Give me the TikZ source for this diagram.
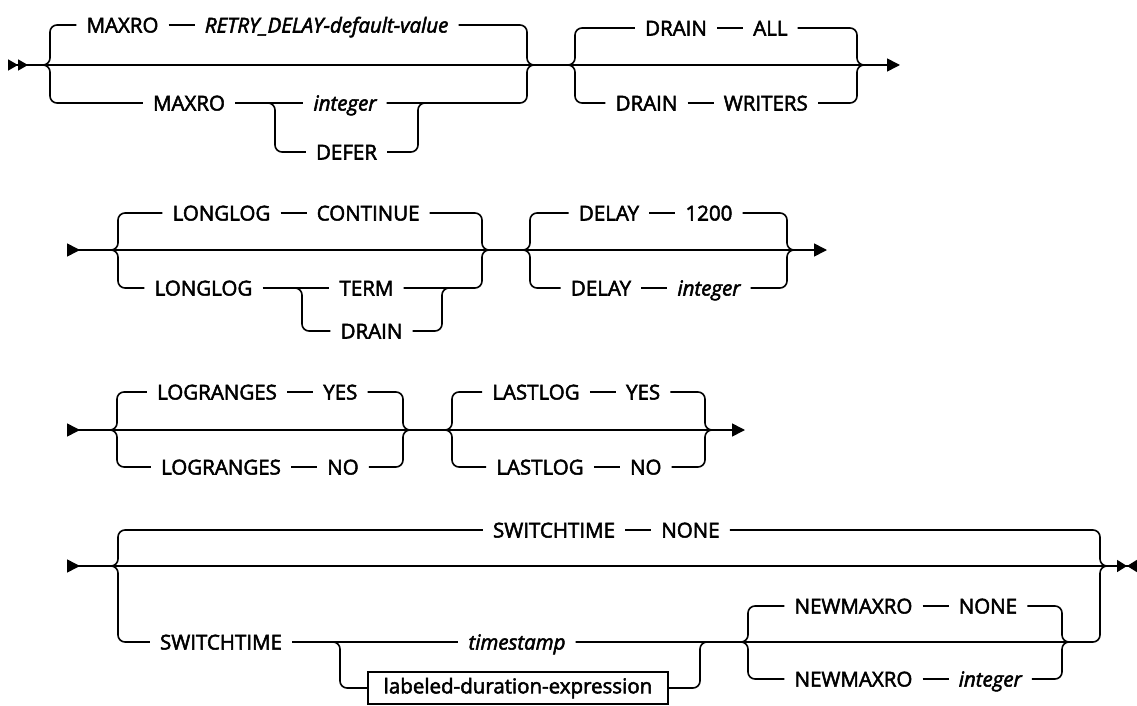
\documentclass[tikz,border=0pt]{standalone}
\usepackage{fontspec}
\setmainfont{Open Sans}[FakeBold=2.5]
\usetikzlibrary{arrows.meta,positioning}
\newcommand{\railfont}{\fontsize{20.5}{24}\selectfont}

\begin{document}
\begin{tikzpicture}[
  x=1pt, y=-1pt,
  node distance=26pt,
  kw/.style={inner xsep=10pt, inner ysep=0pt, text height=15pt, text depth=0pt, font=\railfont},
  var/.style={kw, font=\railfont\itshape},
  ref/.style={draw, line width=1.4pt, inner xsep=8pt, minimum width=300pt, minimum height=32pt, font=\railfont},
  rail/.style={line width=1.6pt},
  turn/.style={rail, rounded corners=7pt},
  ends/.style={rail, {Triangle[reversed, length=13pt, width=13pt]}-{Triangle[length=13pt, width=13pt]}}
]
\useasboundingbox (0,0) rectangle (1137,706);

% row 1: MAXRO and DRAIN
\coordinate (r1s) at (8,65);
\coordinate (r1e) at (900,65);
\coordinate (mxL) at (43,65);
\coordinate (mxR) at (533,65);
\coordinate (dfL) at (268,103);
\coordinate (dfR) at (425,103);
\coordinate (drL) at (567,65);
\coordinate (drR) at (864,65);

\node[kw] (mxA) at (122.5,25) {MAXRO};
\node[var, right=of mxA] (mxDef) {RETRY\_DELAY-default-value};
\node[kw] (mxB) at (189,103) {MAXRO};
\node[var] (mxInt) at (345,103) {integer};
\node[kw] (mxDefer) at (346.5,152) {DEFER};
\node[kw] (drA) at (676,28) {DRAIN};
\node[kw, right=of drA] (drAll) {ALL};
\node[kw] (drB) at (646.5,103) {DRAIN};
\node[kw, right=of drB] (drWr) {WRITERS};

\draw[rail, {Triangle[reversed, length=10pt, width=11pt, sep=0pt] Triangle[reversed, length=10pt, width=11pt, sep=0pt]}-{Triangle[length=13pt, width=13pt]}] (r1s) -- (r1e);
\draw[turn] (mxL) -- ++(7,0) |- (mxA);
\draw[rail] (mxA) -- (mxDef);
\draw[turn] (mxR) -- ++(-6,0) |- (mxDef);
\draw[turn] (mxL) -- ++(7,0) |- (mxB);
\draw[rail] (mxB) -- (mxInt);
\draw[turn] (mxR) -- ++(-6,0) |- (mxInt);
\draw[turn] (dfL) -- ++(7,0) |- (mxDefer);
\draw[turn] (dfR) -- ++(-7,0) |- (mxDefer);
\draw[turn] (drL) -- ++(8,0) |- (drA);
\draw[rail] (drA) -- (drAll);
\draw[turn] (drR) -- ++(-7,0) |- (drAll);
\draw[turn] (drL) -- ++(8,0) |- (drB);
\draw[rail] (drB) -- (drWr);
\draw[turn] (drR) -- ++(-7,0) |- (drWr);

% row 2: LONGLOG and DELAY
\coordinate (r2s) at (67,250);
\coordinate (r2e) at (827,250);
\coordinate (llL) at (110,250);
\coordinate (llR) at (490,250);
\coordinate (tmL) at (294,288);
\coordinate (tmR) at (449,288);
\coordinate (dlL) at (523,250);
\coordinate (dlR) at (794,250);

\node[kw] (llA) at (221.5,213) {LONGLOG};
\node[kw, right=of llA] (llCont) {CONTINUE};
\node[kw] (llB) at (203.5,288) {LONGLOG};
\node[kw] (llTerm) at (366.5,288) {TERM};
\node[kw] (llDrain) at (371.5,331) {DRAIN};
\node[kw] (dlA) at (609,213) {DELAY};
\node[kw, right=of dlA] (dl1200) {1200};
\node[kw] (dlB) at (601,288) {DELAY};
\node[var, right=of dlB] (dlInt) {integer};

\draw[ends] (r2s) -- (r2e);
\draw[turn] (llL) -- ++(8,0) |- (llA);
\draw[rail] (llA) -- (llCont);
\draw[turn] (llR) -- ++(-8,0) |- (llCont);
\draw[turn] (llL) -- ++(8,0) |- (llB);
\draw[rail] (llB) -- (llTerm);
\draw[turn] (llR) -- ++(-8,0) |- (llTerm);
\draw[turn] (tmL) -- ++(8,0) |- (llDrain);
\draw[turn] (tmR) -- ++(-7,0) |- (llDrain);
\draw[turn] (dlL) -- ++(7,0) |- (dlA);
\draw[rail] (dlA) -- (dl1200);
\draw[turn] (dlR) -- ++(-7,0) |- (dl1200);
\draw[turn] (dlL) -- ++(7,0) |- (dlB);
\draw[rail] (dlB) -- (dlInt);
\draw[turn] (dlR) -- ++(-7,0) |- (dlInt);

% row 3: LOGRANGES and LASTLOG
\coordinate (r3s) at (67,430);
\coordinate (r3e) at (745,430);
\coordinate (lrL) at (110,430);
\coordinate (lrR) at (410,430);
\coordinate (laL) at (445,430);
\coordinate (laR) at (712,430);

\node[kw] (lrA) at (217,392) {LOGRANGES};
\node[kw, right=of lrA] (lrYes) {YES};
\node[kw] (lrB) at (221,467) {LOGRANGES};
\node[kw, right=of lrB] (lrNo) {NO};
\node[kw] (laA) at (536,392) {LASTLOG};
\node[kw, right=of laA] (laYes) {YES};
\node[kw] (laB) at (540,467) {LASTLOG};
\node[kw, right=of laB] (laNo) {NO};

\draw[ends] (r3s) -- (r3e);
\draw[turn] (lrL) -- ++(7,0) |- (lrA);
\draw[rail] (lrA) -- (lrYes);
\draw[turn] (lrR) -- ++(-7,0) |- (lrYes);
\draw[turn] (lrL) -- ++(7,0) |- (lrB);
\draw[rail] (lrB) -- (lrNo);
\draw[turn] (lrR) -- ++(-7,0) |- (lrNo);
\draw[turn] (laL) -- ++(7,0) |- (laA);
\draw[rail] (laA) -- (laYes);
\draw[turn] (laR) -- ++(-7,0) |- (laYes);
\draw[turn] (laL) -- ++(7,0) |- (laB);
\draw[rail] (laB) -- (laNo);
\draw[turn] (laR) -- ++(-7,0) |- (laNo);

% row 4: SWITCHTIME and NEWMAXRO
\coordinate (r4s) at (67,566);
\coordinate (r4e) at (1137,566);
\coordinate (swL) at (110,566);
\coordinate (swR) at (1107,566);
\coordinate (ldL) at (333,642);
\coordinate (ldR) at (707,642);
\coordinate (nmL) at (741,642);
\coordinate (nmR) at (1069,642);

\node[kw] (swA) at (554,530) {SWITCHTIME};
\node[kw, right=of swA] (swNone) {NONE};
\node[kw] (swB) at (221,642) {SWITCHTIME};
\node[var] (swStamp) at (517,642) {timestamp};
\node[ref] (swLde) at (518,688) {labeled-duration-expression};
\node[kw] (nmA) at (853.5,606) {NEWMAXRO};
\node[kw, right=of nmA] (nmNone) {NONE};
\node[kw] (nmB) at (853.5,679) {NEWMAXRO};
\node[var, right=of nmB] (nmInt) {integer};

\draw[rail, {Triangle[reversed, length=13pt, width=13pt]}-{Triangle[length=10pt, width=12pt, sep=0pt] Triangle[reversed, length=10pt, width=12pt, sep=0pt]}] (r4s) -- (r4e);
\draw[turn] (swL) -- ++(8,0) |- (swA);
\draw[rail] (swA) -- (swNone);
\draw[turn] (swR) -- ++(-7,0) |- (swNone);
\draw[turn] (swL) -- ++(8,0) |- (swB);
\draw[rail] (swB) -- (swStamp);
\draw[turn] (swR) -- ++(-7,0) |- (swStamp);
\draw[turn] (ldL) -- ++(7,0) |- (swLde);
\draw[turn] (ldR) -- ++(-7,0) |- (swLde);
\draw[turn] (nmL) -- ++(7,0) |- (nmA);
\draw[rail] (nmA) -- (nmNone);
\draw[turn] (nmR) -- ++(-7,0) |- (nmNone);
\draw[turn] (nmL) -- ++(7,0) |- (nmB);
\draw[rail] (nmB) -- (nmInt);
\draw[turn] (nmR) -- ++(-7,0) |- (nmInt);
\end{tikzpicture}
\end{document}
